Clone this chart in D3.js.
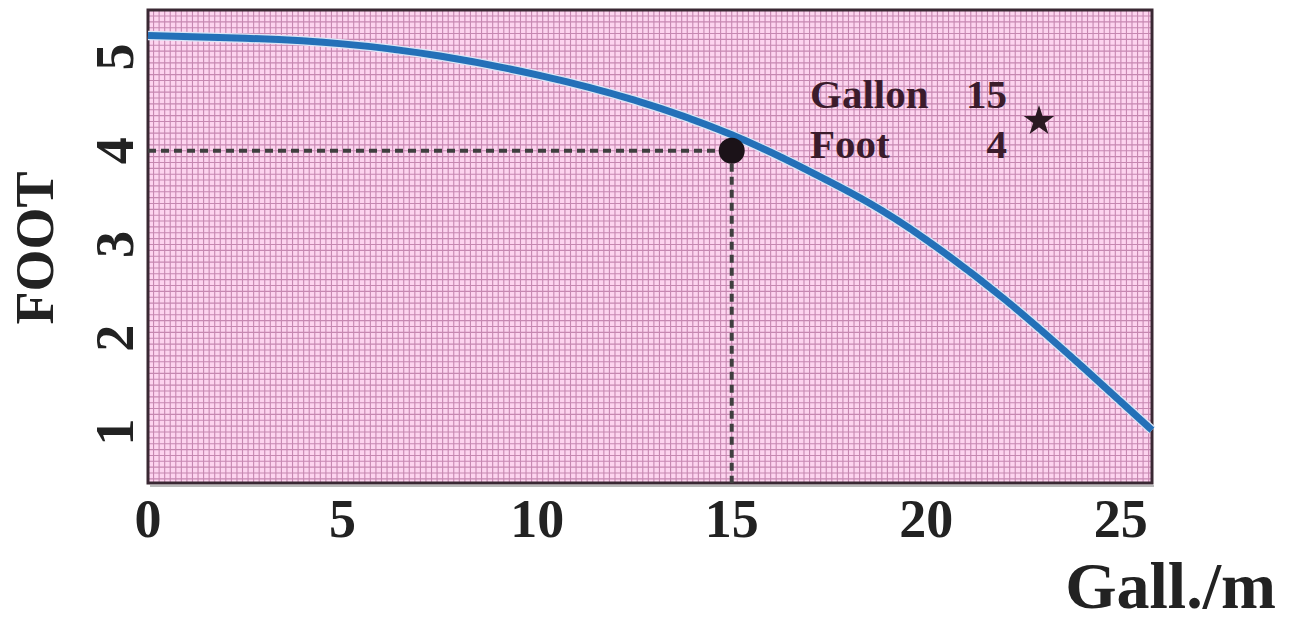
<!DOCTYPE html>
<html>
<head>
<meta charset="utf-8">
<script src="https://cdn.jsdelivr.net/npm/d3@7"></script>
<style>
html,body{margin:0;padding:0;background:#fff;}
svg{display:block;}
text{font-family:"Liberation Serif","DejaVu Serif",serif;}
</style>
</head>
<body>
<svg id="chart" width="1289" height="624"></svg>
<script>
// ---- data ----
const flowGpm = [0, 2.5, 5, 7.5, 10, 12.5, 15, 17, 18.5, 20, 22, 24, 25.8];
const headFt  = [5.23, 5.20, 5.14, 5.01, 4.81, 4.54, 4.17, 3.78, 3.45, 3.05, 2.42, 1.70, 1.02];
const xTicks = [0, 5, 10, 15, 20, 25];
const yTicks = [1, 2, 3, 4, 5];
const opPointFlow = 15;
const opPointHead = 4;
const annotLabels = ["Gallon", "Foot"];
const annotValues = ["15", "4"];
const xTitle = "Gall./m";
const yTitle = "FOOT";

const svg = d3.select("#chart");
const L = 148, R = 1152, T = 10, B = 483;
const x = d3.scaleLinear().domain([0, 25.8]).range([L, R]);
const y = d3.scaleLinear().domain([1, 5]).range([432, 57]);

// plot background
svg.append("rect").attr("x", L).attr("y", T).attr("width", R - L).attr("height", B - T)
  .attr("fill", "#fdd4ef");

// fine grid
const gx = d3.range(0, 25.8 + 1e-6, 1 / 7);
const yLo = y.invert(B), yHi = y.invert(T);
const gy = d3.range(Math.ceil(yLo * 16) / 16, yHi, 1 / 16);
const grid = svg.append("g").attr("stroke", "#a65a8c").attr("stroke-width", 1.1).attr("opacity", 0.62);
grid.selectAll("line.v").data(gx).join("line").attr("class", "v")
  .attr("x1", d => x(d)).attr("x2", d => x(d)).attr("y1", T).attr("y2", B);
grid.selectAll("line.h").data(gy).join("line").attr("class", "h")
  .attr("y1", d => y(d)).attr("y2", d => y(d)).attr("x1", L).attr("x2", R);

// shadow + frame
svg.append("line").attr("x1", L + 2).attr("x2", R + 2).attr("y1", B + 3).attr("y2", B + 3)
  .attr("stroke", "#bbb").attr("stroke-width", 2);
svg.append("rect").attr("x", L).attr("y", T).attr("width", R - L).attr("height", B - T)
  .attr("fill", "none").attr("stroke", "#3a2833").attr("stroke-width", 3);

// dashed guide lines
svg.append("line").attr("x1", L).attr("x2", x(opPointFlow)).attr("y1", y(opPointHead)).attr("y2", y(opPointHead))
  .attr("stroke", "#3f3f3f").attr("stroke-width", 4).attr("stroke-dasharray", "8,5");
svg.append("line").attr("x1", x(opPointFlow)).attr("x2", x(opPointFlow)).attr("y1", y(opPointHead)).attr("y2", B)
  .attr("stroke", "#3f3f3f").attr("stroke-width", 4).attr("stroke-dasharray", "8,5");

// curve
const pts = flowGpm.map((f, i) => [f, headFt[i]]);
const line = d3.line().x(d => x(d[0])).y(d => y(d[1])).curve(d3.curveNatural);
svg.append("path").attr("d", line(pts)).attr("fill", "none")
  .attr("stroke", "#dbe6f6").attr("stroke-width", 9.5).attr("stroke-linecap", "butt");
svg.append("path").attr("d", line(pts)).attr("fill", "none")
  .attr("stroke", "#2470b8").attr("stroke-width", 7).attr("stroke-linecap", "butt");

// operating point
svg.append("circle").attr("cx", x(opPointFlow)).attr("cy", y(opPointHead)).attr("r", 13)
  .attr("fill", "#1b1218");

// annotation
const ann = svg.append("g").attr("fill", "#3b1c2c").attr("font-weight", "bold").attr("font-size", 41);
annotLabels.forEach((t, i) => {
  ann.append("text").attr("x", 810).attr("y", 108 + i * 50).text(t);
  ann.append("text").attr("x", 1007).attr("y", 108 + i * 50).attr("text-anchor", "end").text(annotValues[i]);
});
svg.append("path").attr("d", d3.symbol(d3.symbolStar, 290)())
  .attr("transform", "translate(1039,121)").attr("fill", "#2a1a22");

// x axis tick labels
svg.append("g").selectAll("text").data(xTicks).join("text")
  .attr("x", d => x(d)).attr("y", 537).attr("text-anchor", "middle")
  .attr("font-size", 54).attr("fill", "#222").attr("font-weight", "bold")
  .text(d => d);

// y axis tick labels (rotated)
svg.append("g").selectAll("text").data(yTicks).join("text")
  .attr("transform", d => `translate(133,${y(d)}) rotate(-90)`)
  .attr("text-anchor", "middle")
  .attr("font-size", 54).attr("fill", "#222").attr("font-weight", "bold")
  .text(d => d);

// titles
svg.append("text").attr("transform", "translate(53,248) rotate(-90)").attr("text-anchor", "middle")
  .attr("font-size", 54).attr("font-weight", "bold").attr("fill", "#222").text(yTitle);
svg.append("text").attr("x", 1276).attr("y", 608).attr("text-anchor", "end")
  .attr("font-size", 66).attr("font-weight", "bold").attr("fill", "#222").text(xTitle);
</script>
</body>
</html>
